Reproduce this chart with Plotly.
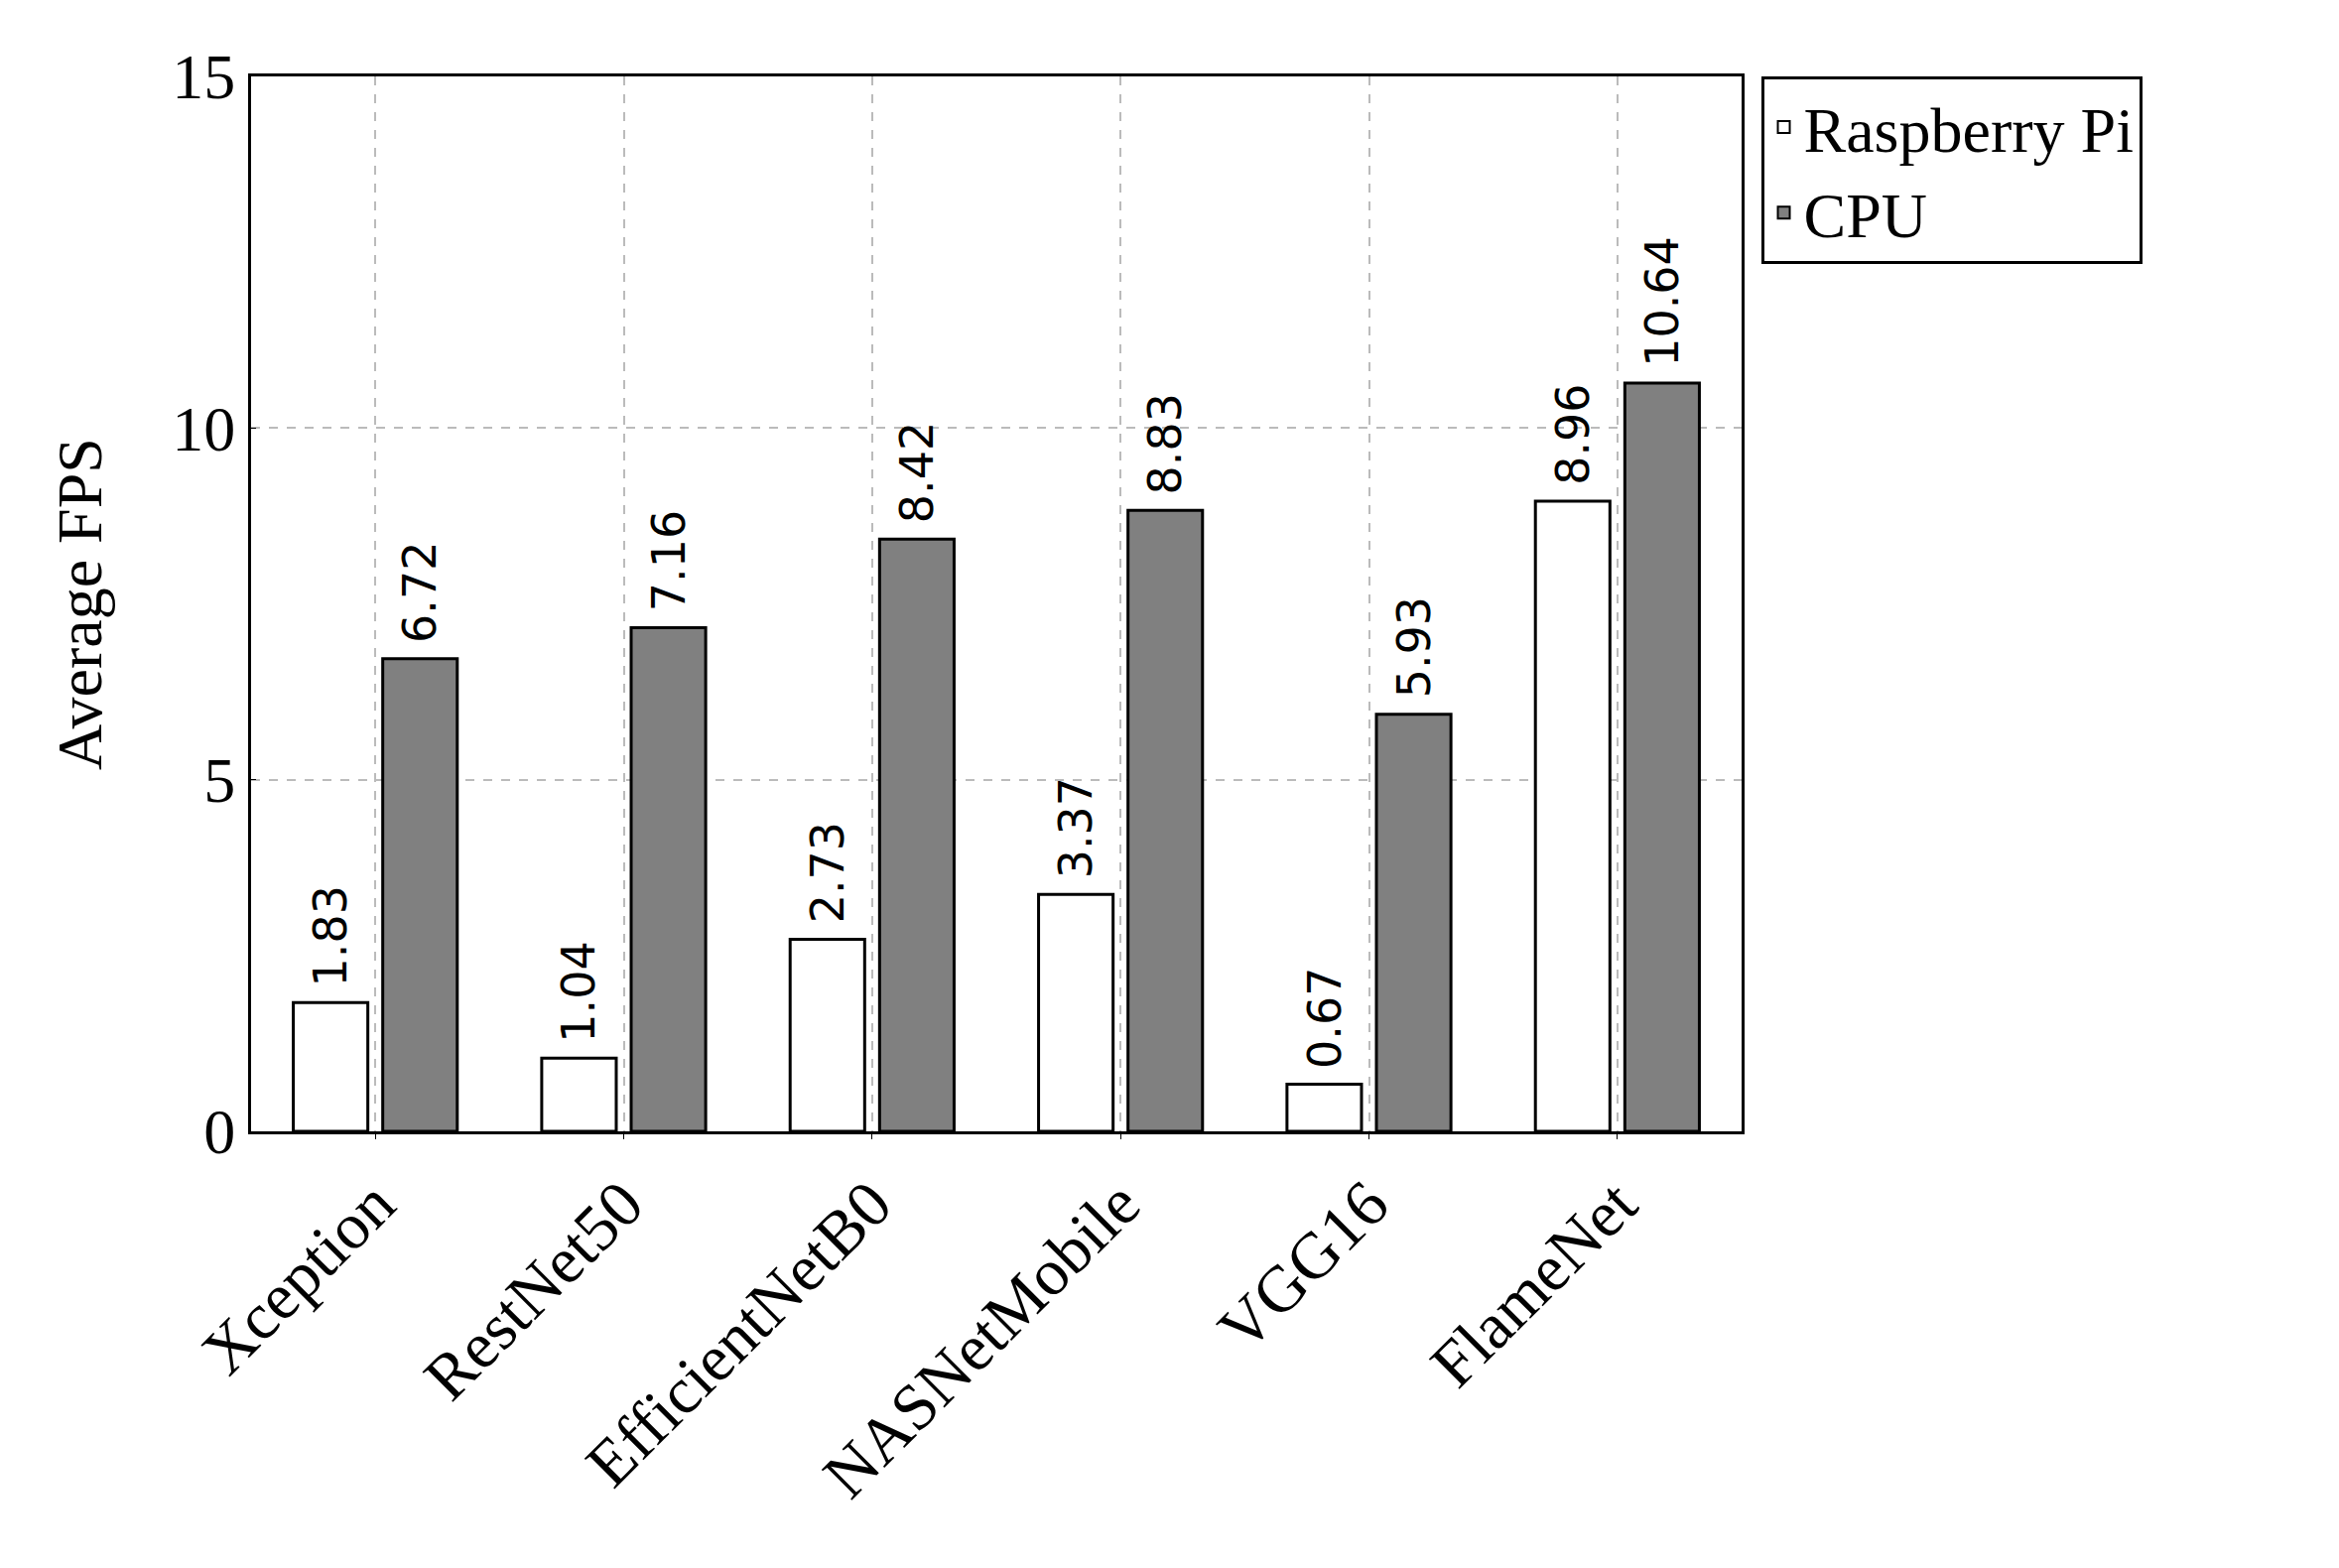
import plotly.graph_objects as go

categories = ["Xception", "RestNet50", "EfficientNetB0", "NASNetMobile", "VGG16", "FlameNet"]
rpi = [1.83, 1.04, 2.73, 3.37, 0.67, 8.96]
cpu = [6.72, 7.16, 8.42, 8.83, 5.93, 10.64]
yticks = [0, 5, 10, 15]

font = "Liberation Serif"
W, OFF = 0.3, 0.03
fig = go.Figure()
fig.add_bar(x=list(range(len(categories))), y=rpi, name="Raspberry Pi", width=W, offset=-W - OFF,
            marker=dict(color="white", line=dict(color="black", width=3)))
fig.add_bar(x=list(range(len(categories))), y=cpu, name="CPU", width=W, offset=OFF,
            marker=dict(color="#808080", line=dict(color="black", width=3)))

for i, (a, b) in enumerate(zip(rpi, cpu)):
    for xv, yv in ((i - OFF - W / 2, a), (i + OFF + W / 2, b)):
        fig.add_annotation(x=xv, y=yv, text=f"{yv:.2f}", textangle=-90, showarrow=False,
                           yanchor="bottom", xanchor="center", yshift=14,
                           font=dict(family="DejaVu Sans", size=46, color="black"))

fig.update_layout(
    width=2357, height=1580, plot_bgcolor="white", paper_bgcolor="white",
    margin=dict(l=245, r=2357 - 1747, t=69, b=1580 - 1132),
    font=dict(family=font, size=64, color="black"),
    barmode="overlay",
    legend=dict(x=1.013, y=1.0, xanchor="left", yanchor="top", bordercolor="black",
                borderwidth=3, font=dict(size=64), itemsizing="constant", tracegroupgap=10),
    xaxis=dict(range=[-0.5, 5.5], tickmode="array", tickvals=list(range(len(categories))),
               ticktext=categories, tickangle=-45, showline=True, mirror=True, linecolor="black",
               linewidth=3, showgrid=True, gridcolor="#bbbbbb", griddash="dash", gridwidth=2,
               ticks="outside", tickcolor="black", tickfont=dict(size=66)),
    yaxis=dict(range=[0, 15], tickvals=yticks, showline=True, mirror=True, linecolor="black",
               linewidth=3, showgrid=True, gridcolor="#bbbbbb", griddash="dash", gridwidth=2,
               ticks="inside", tickcolor="black", zeroline=False,
               title=dict(text="Average FPS", font=dict(size=64), standoff=50), tickfont=dict(size=64)),
)
fig.write_html("out.html")
